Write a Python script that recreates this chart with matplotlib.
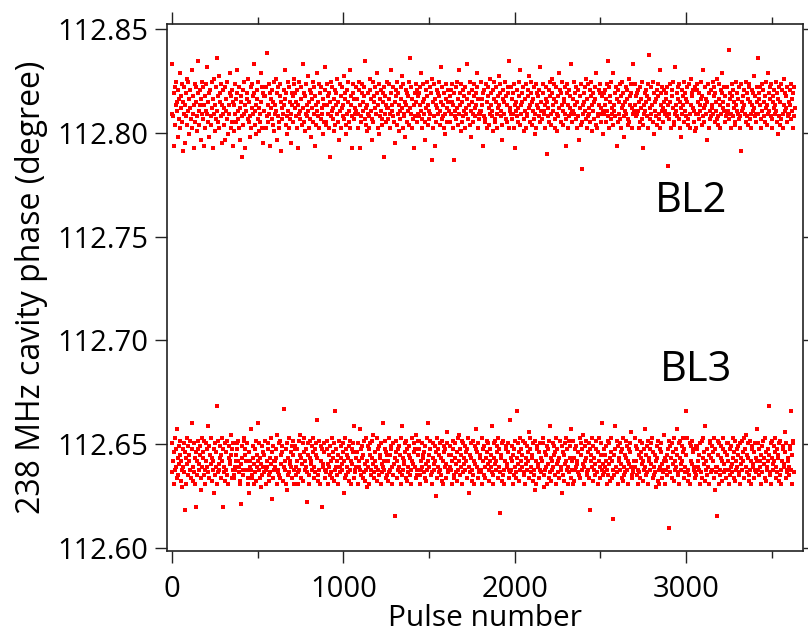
import numpy as np
import matplotlib
matplotlib.use("Agg")
import matplotlib.pyplot as plt
from matplotlib.ticker import MultipleLocator

plt.rcParams["font.family"] = ["Open Sans", "DejaVu Sans"]

# phase readings, one symbol per sampled pulse (every 3rd pulse)
# symbol -> phase level, '0' lowest ... 'z' highest, 0.0014 deg per step,
# 'V' is the band centre
LEVELS = "0123456789ABCDEFGHIJKLMNOPQRSTUVWXYZabcdefghijklmnopqrstuvwxyz"
LEVEL_STEP = 0.0014
PULSE_STEP = 3

BL2_CENTER = 112.8135
BL3_CENTER = 112.6420

BL2_CODES = [
    "SjRZHbOVdWTKaQXgNUYPcWFSbVIRZeOTdXLUaQhNYSVGcPWbRMZkTOVaXJSd",
    "QbVHYNcTSiWPZKaROdUGXSeVMbQTlYPNfWZcRIVSaUObJXTdQLSVgZNYPaHW",
    "VMcSXPZhQTbNUJWYRDaOSdVGTXZQePWRKbNUcYSjZOTVLaXQdMUPSgWbNZIY",
    "TYNbnRVPcSHZUXQaOWdMSVTeZJbRNPYcWFQUSaVhXOZRLdTNbWQSIVZYPceU",
    "ZRWaNGVSdTQXbOjUPZMYcSVRTfWNaQKZUXdPSbYHVOgTRWcNZQbUSLXPVaiO",
    "PcVSYZNDWdRTbUQMXOaVZeSPWJcTYNUbRVfQZXLOSaWdTPNhYVRGZcXQSUbT",
    "XNSdaVGRPZcTWbYkQUOMVSZRNeaXTJQdPWYbUSgZNVLcRXTaOQWZDbSYPVdU",
    "UQcXSNZhTVbRPIWaYOdSZMVTQbXUfNcSRWKaVZPYTdOlUSbNXQVGRZWcaPYS",
    "RZVbTgQNcWSXPJaUdYOVTQSbZeCWNcRXHVPaUZSYdOTiWQbRVNZSLcXPUaWT",
    "YPaSWcNVZCTRbQUdXOShZVMcPWaRTYNbUSjXQVZdOTKWaSPcYRUVZbgNXSQT",
    "SdTVXHZRaPQcWNYbUOeSVZTRMaXdQPWbSNYUfVcZRTOJaXSWdQYPVbZkNTUS",
    "bXQSZNcGVWTaRPUdYOhSVZWbQMXTcNRSaYfUPVZdOWTXbQLSNcZVUYaRPiTW",
    "QZcTSVNbXEWRUaPdYOSeZTVXcQNbWMSRYgUaZPVdTOXWbSHQcZVNRaUYjSPT",
    "XTSdVZQbNWRaJUYOcP9SVWZbTeQXNRcSUPaYdVMZTWQbXgONSRaVZcUPYSLT",
    "ZSVaPXTcRkNbWYQdUSOgTVZRbXHPaWSQcNYUdVZKRTWbSXaOQePVYZcNUSjT",
    "VcRYSZaTNWPbXUQdOGSVZTWaRYcNXmQUSbVPdZLTWRXaOYcSQhNVZbTUPaWS",
    "TXZbRVASQcWNaYUdPOSiVTZRbXcQNWKUSaYVdPZTXRWbOQcSNeVZYaUTPMbS",
    "NcaSWZQVTXdOYRhUPbVSXWJcZNTQaRVUdSbYPZWTQeROXcVNSagZWUTbYPRS",
    "bVTQoZXNScYRaUWPOdVTZSXbQNRcFWTUYaVSdPZRXObcWQNSaVTZfUYRPSbW",
    "lSXZbVQNcTaWRYPdUOVSgZTXbRcQNWYUaSVTdPZLXRbOWcQaSNeVZTUYbPRS",
    "WSaVQcTXNZbRU",
]

BL3_CODES = [
    "RbVNYSdZTPgWQaUXcOVMSZTbRYENWdUQaVXcSPZiOTRbWNYFQVcZSUaXLPdT",
    "WYcQSNVbTZhRPaXUdOWSVZKbQYTNoRcSUaWXPdVFZTRbOYSQcNaWVUeXPZSb",
    "PQSTVXZbcVTRONGUaWSQdcZXVSbPNKYVTgSPQWaUNZRcOXTiVSbWPMUQaYTR",
    "XcSNVTbZQORWdUIYPaVSTVWZeNRSbQcPUXYaOnTVSNZbLQWRdUVTYaPXcSNZ",
    "aQTZVRNcSXeWPUbOYdSVZTHRXbNQcWVUaSYdPTZRXbjWOQcSNaVZFTUYbPSR",
    "ScZNUTXaQVRPdWYObSmTZVQXNcRTaWUSbYKVPdZQTXRWaOScNVZUYbhPSRTW",
    "YNbTVgSZQaWXPcRUOdSMVaTZNXbQSWcUeRPYVTdOZSQaXWNbURTiVSZcPYQX",
    "OVdRSXaZNTQbUWCYcPVSZTaXRNdQhWSUVbYPcZOTRXaWQNSdVUYbZTPeSQcX",
    "cZNQVSTbXWRYaPUOdSiVXTZcQRNbWSUVaJYPdTZXRbSQWOcVNaYTZUPbfSRX",
    "TaSXVNZcQPWbRUYOSdVeZQTXNcRbWUSaVYPZdTKRXWbOScQNVaUZgTYPbSRW",
    "XRSdNZVQaTPWcYUbOSVZTXhRQNbWcUSVaYPdZTRDXWObQcSNVaZUTYbPSjRW",
    "SaVXNQZcTRPmWbUYOdSVZTXcQRNbWUaSVYfPdZTRXWbOQSLcNVaZUTYPbSRW",
    "VbdQMSYXTaNUZcPhRWOVSTbaXQYdNUZRVWPcTSKaYQOXbUVdSZTNcRWaPgVS",
    "cNOWZSaTVUYRQdPbXSZeUTNVaWcRQYSPbZEXVdTOaWSQUcZRNYVdPTXbSiQU",
    "ZRTXVaNSQcbUOWYdPVSBXQZhTcRNaWVSbUYPZdOTQRXcWaSVNZUbYTfPQRSV",
    "TdVaQZSNXRPcWYbUOVSZgTQXRaNcWVSZbUdYPTQRXVMaWOcSNZTYbUPRSeVW",
    "NSVQXZT8cRaWPbUYOdSVZTgXQRNbcWUSaVYdPZTRmXRdSOQbNaVUcZYTSPRa",
    "QZaVTSXNbRRcPWdYUhOSVZQTXNbcRWSaVYdPLZTRCTcXNbQSWaOVZdURYSPb",
    "XVbSNQZTaURWdPYcOSVTZaXQRbNWUcSVYPdZTeRXWbOQScNVaZTUYPbSRWgV",
    "bSZQVTNXaRcWUPdYOSTVZXoRQbNcWSUVaYdPTZRXWObQcSNVaZTUYfbPSRWV",
    "TQZaSmXNbcR",
]

PULSE_TICKS = [0, 1000, 2000, 3000]
PHASE_TICKS = [112.60, 112.65, 112.70, 112.75, 112.80, 112.85]


def decode(lines, center):
    codes = "".join(lines)
    idx = np.array([LEVELS.index(c) for c in codes])
    return center + (idx - LEVELS.index("V")) * LEVEL_STEP


bl2 = decode(BL2_CODES, BL2_CENTER)
bl3 = decode(BL3_CODES, BL3_CENTER)
pulse2 = np.arange(len(bl2)) * PULSE_STEP
pulse3 = np.arange(len(bl3)) * PULSE_STEP

fig = plt.figure(figsize=(8.08, 6.34), dpi=100)
ax = fig.add_axes([0.2067, 0.131, 0.787, 0.831])

ax.plot(pulse2, bl2, "s", color="#ff0000", ms=2.4, mew=0)
ax.plot(pulse3, bl3, "s", color="#ff0000", ms=2.4, mew=0)

ax.set_xlim(-29, 3683)
ax.set_ylim(112.5986, 112.8524)
ax.set_xticks(PULSE_TICKS)
ax.xaxis.set_minor_locator(MultipleLocator(500))
ax.set_yticks(PHASE_TICKS)
ax.set_yticklabels([f"{v:.2f}" for v in PHASE_TICKS])

ax.tick_params(which="both", direction="out", top=True, right=True,
               width=1.0, color="#222222", labelsize=21)
ax.tick_params(axis="y", pad=5)
ax.tick_params(axis="x", pad=9)
ax.tick_params(which="major", length=8.5)
ax.tick_params(which="minor", length=5)
for sp in ax.spines.values():
    sp.set_linewidth(1.2)
    sp.set_color("#222222")

ax.set_xlabel("Pulse number", fontsize=21.5, labelpad=0)
ax.set_ylabel("238 MHz cavity phase (degree)", fontsize=23, labelpad=7)

ax.text(3030, 112.767, "BL2", fontsize=30, ha="center", va="center")
ax.text(3060, 112.686, "BL3", fontsize=30, ha="center", va="center")

fig.savefig("out.png", dpi=100)
